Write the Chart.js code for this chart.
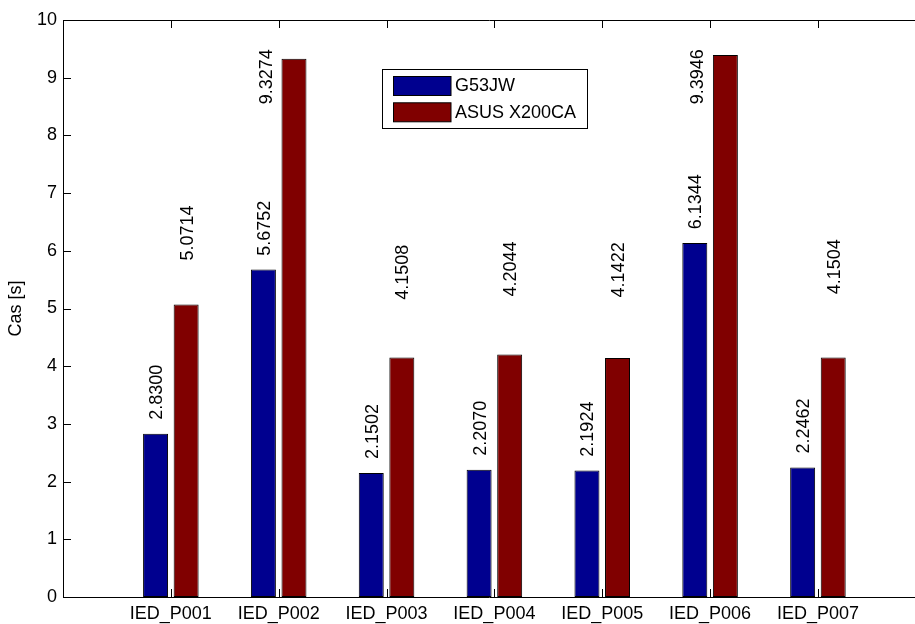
<!DOCTYPE html>
<html>
<head>
<meta charset="utf-8">
<script src="https://cdn.jsdelivr.net/npm/chart.js@4/dist/chart.umd.min.js"></script>
<style>
  html, body { margin: 0; padding: 0; background: #fff; overflow: hidden; }
  #wrap { width: 915px; height: 624px; position: relative; }
</style>
</head>
<body>
<div id="wrap"><canvas id="c" width="915" height="624"></canvas></div>
<script>
// Measured run times per project, in seconds
const categories = ['IED_P001', 'IED_P002', 'IED_P003', 'IED_P004', 'IED_P005', 'IED_P006', 'IED_P007'];
const seriesNames = ['G53JW', 'ASUS X200CA'];
const g53jw = [2.8300, 5.6752, 2.1502, 2.2070, 2.1924, 6.1344, 2.2462];
const asusX200ca = [5.0714, 9.3274, 4.1508, 4.2044, 4.1422, 9.3946, 4.1504];
const yTickValues = [0, 1, 2, 3, 4, 5, 6, 7, 8, 9, 10];

const FONT = '"Liberation Sans", Arial, Helvetica, sans-serif';
const BLUE = '#00008f';
const RED = '#800000';

const seriesValues = [g53jw, asusX200ca];

function toPoints(values) {
  return values.map((v, i) => ({ x: i + 1, y: v }));
}

// Short tick marks pointing into the plot box
const innerTicks = {
  id: 'innerTicks',
  beforeDatasetsDraw(chart) {
    const { ctx, chartArea: a } = chart;
    const x = chart.scales.x, y = chart.scales.y;
    const len = 8;
    ctx.save();
    ctx.strokeStyle = '#000';
    ctx.lineWidth = 1;
    ctx.beginPath();
    x.ticks.forEach(t => {
      if (t.value <= 0) return;
      const px = Math.round(x.getPixelForValue(t.value)) + 0.5;
      ctx.moveTo(px, a.bottom); ctx.lineTo(px, a.bottom - len);
      ctx.moveTo(px, a.top); ctx.lineTo(px, a.top + len);
    });
    y.ticks.forEach(t => {
      const py = Math.round(y.getPixelForValue(t.value)) + 0.5;
      ctx.moveTo(a.left, py); ctx.lineTo(a.left + len, py);
    });
    ctx.stroke();
    ctx.restore();
  }
};

// Rotated value labels: each label starts a fixed distance (in seconds)
// above the first series' value of its group; a label that would run into
// its own bar goes beside the bar instead.
const labelLift = [0.24, 3.0];
const sideLabelStart = 8.54;
const valueLabels = {
  id: 'valueLabels',
  afterDatasetsDraw(chart) {
    const ctx = chart.ctx;
    const yScale = chart.scales.y;
    ctx.save();
    ctx.font = '18px ' + FONT;
    ctx.fillStyle = '#000';
    ctx.textAlign = 'left';
    ctx.textBaseline = 'alphabetic';
    const capHalf = 18 * 0.716 / 2;
    chart.data.datasets.forEach((ds, d) => {
      const meta = chart.getDatasetMeta(d);
      meta.data.forEach((bar, i) => {
        const v = seriesValues[d][i];
        const txt = v.toFixed(4);
        let cx = bar.x;
        let base = g53jw[i] + labelLift[d];
        if (base < v) {
          cx = bar.x - 28.5;
          base = sideLabelStart;
        }
        const start = yScale.getPixelForValue(base);
        ctx.save();
        ctx.translate(cx + capHalf, start);
        ctx.rotate(-Math.PI / 2);
        ctx.fillText(txt, 0, 0);
        ctx.restore();
      });
    });
    ctx.restore();
  }
};

// Boxed legend drawn inside the plot area
const boxLegend = {
  id: 'boxLegend',
  afterDraw(chart) {
    const ctx = chart.ctx;
    const box = { x: 382.5, y: 69.5, w: 205, h: 59 };
    ctx.save();
    ctx.fillStyle = '#fff';
    ctx.fillRect(box.x, box.y, box.w, box.h);
    ctx.strokeStyle = '#000';
    ctx.lineWidth = 1;
    ctx.strokeRect(box.x, box.y, box.w, box.h);
    ctx.font = '18px ' + FONT;
    ctx.textBaseline = 'middle';
    ctx.textAlign = 'left';
    chart.data.datasets.forEach((ds, d) => {
      const sy = 76.5 + d * 26.3;
      ctx.fillStyle = ds.backgroundColor;
      ctx.fillRect(393.5, sy, 57.5, 19);
      ctx.strokeStyle = '#000';
      ctx.strokeRect(393.5, sy, 57.5, 19);
      ctx.fillStyle = '#000';
      ctx.fillText(ds.label, 455, sy + 10);
    });
    ctx.restore();
  }
};

new Chart(document.getElementById('c'), {
  type: 'bar',
  data: {
    datasets: [
      { label: seriesNames[0], data: toPoints(g53jw), backgroundColor: BLUE, borderColor: '#000', borderWidth: 1, borderSkipped: false },
      { label: seriesNames[1], data: toPoints(asusX200ca), backgroundColor: RED, borderColor: '#000', borderWidth: 1, borderSkipped: false }
    ]
  },
  options: {
    responsive: false,
    animation: false,
    devicePixelRatio: 1,
    categoryPercentage: 0.567,
    barPercentage: 0.817,
    layout: { padding: { top: 20, right: 0, bottom: 0, left: 0 } },
    plugins: { legend: { display: false }, tooltip: { enabled: false } },
    scales: {
      x: {
        type: 'linear',
        position: 'bottom',
        min: 0,
        max: 7.9,
        offset: false,
        afterFit(s) { s.height = 27; },
        ticks: {
          stepSize: 1,
          includeBounds: false,
          autoSkip: false,
          maxRotation: 0,
          padding: 6,
          color: '#000',
          font: { family: FONT, size: 18 },
          callback: (v) => categories[v - 1] || ''
        },
        grid: { display: false, offset: false, drawTicks: false },
        border: { display: true, color: '#000', width: 1 }
      },
      xTop: {
        type: 'linear',
        position: 'top',
        min: 0,
        max: 7.9,
        afterFit(s) { s.height = 0; },
        ticks: { stepSize: 1, includeBounds: false, display: false },
        grid: { display: false, offset: false, drawTicks: false },
        border: { display: true, color: '#000', width: 1 }
      },
      y: {
        min: 0,
        max: 10,
        afterFit(s) { s.width = 63; },
        afterBuildTicks(s) { s.ticks = yTickValues.map(v => ({ value: v })); },
        ticks: {
          padding: 6,
          color: '#000',
          font: { family: FONT, size: 18 },
          callback: (v) => String(v)
        },
        title: {
          display: true,
          text: 'Cas [s]',
          color: '#000',
          font: { family: FONT, size: 18 },
          padding: { top: 5, bottom: 0 }
        },
        grid: { display: false, drawTicks: false },
        border: { display: true, color: '#000', width: 1 }
      }
    }
  },
  plugins: [innerTicks, valueLabels, boxLegend]
});
</script>
</body>
</html>
